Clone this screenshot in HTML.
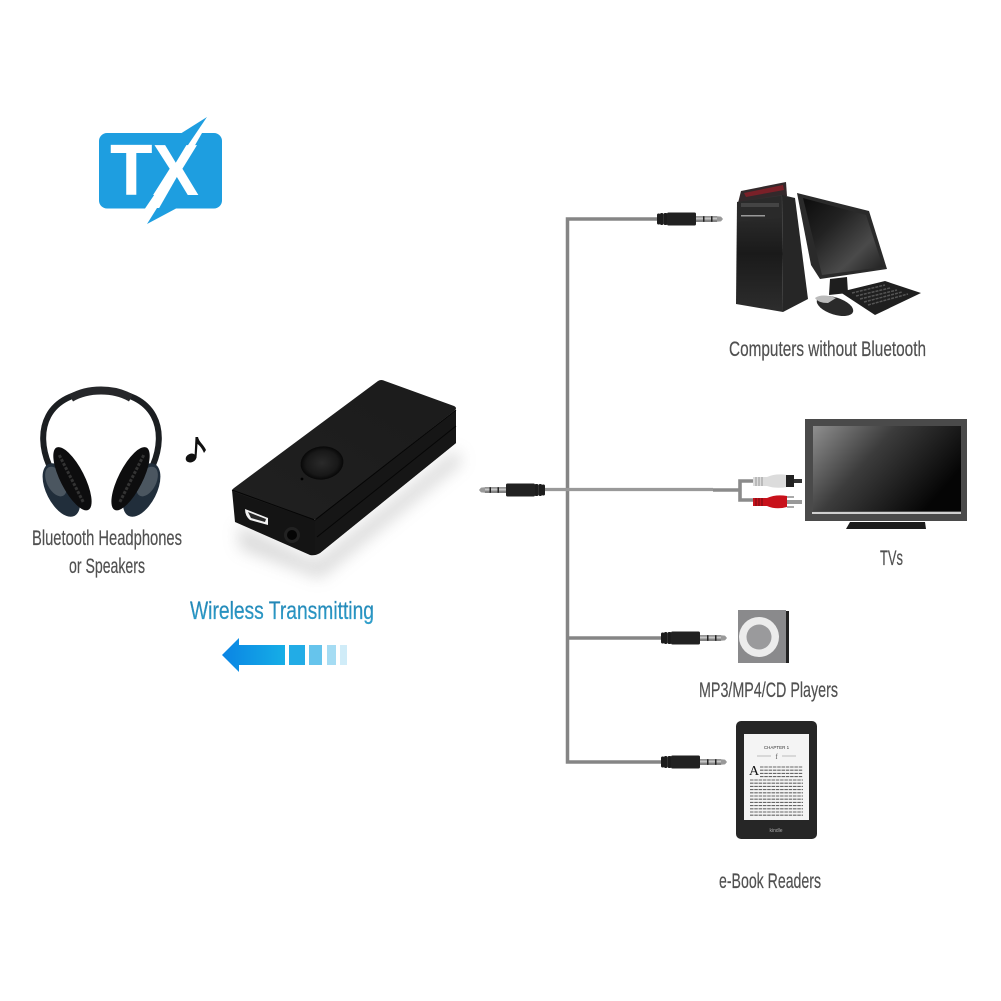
<!DOCTYPE html>
<html><head><meta charset="utf-8"><style>
html,body{margin:0;padding:0;background:#fff}
svg{display:block}
text{font-family:"Liberation Sans Narrow","Liberation Sans",sans-serif}
</style></head><body>
<svg width="1001" height="1001" viewBox="0 0 1001 1001" xmlns="http://www.w3.org/2000/svg">
<defs>
<linearGradient id="arrow" x1="0" x2="1" y1="0" y2="0"><stop offset="0" stop-color="#0a84e4"/><stop offset="1" stop-color="#16aee6"/></linearGradient>
<linearGradient id="wt" x1="0" x2="0" y1="0" y2="1"><stop offset="0" stop-color="#1f7fb0"/><stop offset="1" stop-color="#2fa4d0"/></linearGradient>
<linearGradient id="tv" x1="0" x2="1" y1="0" y2="0.5"><stop offset="0" stop-color="#8f8f8f"/><stop offset=".45" stop-color="#3c3c3c"/><stop offset="1" stop-color="#050505"/></linearGradient>
<linearGradient id="mon" x1="0" x2="1" y1="0" y2="1"><stop offset="0" stop-color="#0c0c0c"/><stop offset=".35" stop-color="#222"/><stop offset=".7" stop-color="#4a4a4a"/><stop offset="1" stop-color="#1c1c1c"/></linearGradient>
<linearGradient id="tower" x1="0" x2="0" y1="0" y2="1"><stop offset="0" stop-color="#333"/><stop offset=".5" stop-color="#1a1a1a"/><stop offset="1" stop-color="#2d2d2d"/></linearGradient>
<linearGradient id="devtop" x1="0" x2="1" y1="1" y2="0"><stop offset="0" stop-color="#202020"/><stop offset="1" stop-color="#1b1b1b"/></linearGradient>
<radialGradient id="btn"><stop offset="0" stop-color="#2a2a2a"/><stop offset=".75" stop-color="#181818"/><stop offset="1" stop-color="#070707"/></radialGradient>
<linearGradient id="metal" x1="0" x2="0" y1="0" y2="1"><stop offset="0" stop-color="#6a6a6a"/><stop offset=".4" stop-color="#cfcfcf"/><stop offset="1" stop-color="#555"/></linearGradient>
<filter id="blur" x="-30%" y="-30%" width="160%" height="160%"><feGaussianBlur stdDeviation="8"/></filter>
<g id="jack">
  <rect x="0" y="-5.500" width="3.400" height="11" rx="1.500" fill="#1c1c1c"/><rect x="3" y="-6" width="3.400" height="12" rx="1.500" fill="#1c1c1c"/><rect x="6.500" y="-6" width="4" height="12" rx="1.500" fill="#1c1c1c"/>
  <rect x="10" y="-6.500" width="29" height="13" rx="1.500" fill="#212121"/>
  <rect x="39" y="-2.800" width="21" height="5.600" fill="url(#metal)"/>
  <rect x="46" y="-2.800" width="1.500" height="5.600" fill="#222"/><rect x="54" y="-2.800" width="1.500" height="5.600" fill="#222"/>
  <path d="M60 -2.800 L64 -2.400 L66 0 L64 2.400 L60 2.800Z" fill="#999"/>
</g>
</defs>
<rect width="1001" height="1001" fill="#fff"/>

<!-- TX logo -->
<rect x="99" y="133" width="123" height="75.500" rx="8" fill="#1e9ee0"/>
<path d="M180 134 L207 117 L197 134Z" fill="#1e9ee0"/>
<text x="110" y="195" font-size="72" font-weight="700" fill="#fff" textLength="89" lengthAdjust="spacingAndGlyphs" style="font-family:'Liberation Sans',sans-serif">TX</text>
<path d="M207 117 L144 210 L158 210 L202 133Z" fill="#fff"/>
<path d="M147 224 L177 208 L157 208Z" fill="#1e9ee0"/>

<!-- Headphones -->
<path d="M49 465 C35 432 44 392 101 391 C158 392 167 432 153 465" fill="none" stroke="#1b1e21" stroke-width="6"/>
<path d="M71 398 C88 388 114 388 131 398" fill="none" stroke="#26272a" stroke-width="8"/>
<g transform="rotate(-27 68 481)">
<ellipse cx="58" cy="486" rx="15" ry="29" fill="#212e3b"/>
<ellipse cx="57" cy="476" rx="9" ry="16" fill="#5a646d" opacity=".75"/>
<ellipse cx="73" cy="481" rx="12" ry="35" fill="#0d0d0e"/>
<path d="M72 454 V508" stroke="#333" stroke-width="3" stroke-dasharray="3 1.500"/>
</g>
<g transform="rotate(27 135 481)">
<ellipse cx="145" cy="486" rx="15" ry="29" fill="#212e3b"/>
<ellipse cx="146" cy="476" rx="9" ry="16" fill="#5a646d" opacity=".75"/>
<ellipse cx="130" cy="481" rx="12" ry="35" fill="#0d0d0e"/>
<path d="M131 454 V508" stroke="#333" stroke-width="3" stroke-dasharray="3 1.500"/>
</g>

<!-- Music note -->
<ellipse cx="191" cy="458" rx="5.500" ry="4.300" transform="rotate(-20 191 458)" fill="#111"/>
<path d="M194.500 457 L195.500 437 L198 437 C199 442 204 445 206 450 L204 453 C202 448 199 445 197.500 444 L196.500 458Z" fill="#111"/>

<!-- Device -->
<path d="M238 525 L316 562 L456 450 L462 462 L320 578 L240 548Z" fill="#999" opacity=".38" filter="url(#blur)"/>
<path d="M232 490 L235 522 L310 555 Q315 556 320 553 L456 443 L456 410 L315 520Z" fill="#141414"/>
<path d="M315 520 L456 410 L456 443 L320 553 L315 555Z" fill="#161616"/>
<path d="M317 537 L456 426" stroke="#060606" stroke-width="1"/>
<path d="M234 488 L378 381 Q381 379 385 381 L454 406 Q458 408 454 411 L318 518 Q315 520 311 519 L234 492 Q231 490 234 488Z" fill="url(#devtop)"/>
<path d="M232 490 L315 520 L456 410" fill="none" stroke="#050505" stroke-width="1"/>
<ellipse cx="322" cy="463" rx="21.500" ry="16.500" transform="rotate(-8 322 463)" fill="url(#btn)"/>
<circle cx="302" cy="479" r="1.400" fill="#000"/>
<path d="M245 509 L268 518 L268 525 L250 520 Q245 516 245 509Z" fill="#f2f2f2"/>
<path d="M248 512 L266 519 L265 522 L251 518Z" fill="#2a2a2a"/>
<circle cx="292" cy="535" r="8" fill="#222"/><circle cx="292" cy="535" r="5" fill="#050505"/>

<!-- Wireless label and arrow -->
<text x="190" y="619" font-size="25" fill="url(#wt)" stroke="#2a8fbb" stroke-width=".25" textLength="184" lengthAdjust="spacingAndGlyphs">Wireless Transmitting</text>
<path d="M222 655 L239 638 L239 645 L285 645 L285 665 L239 665 L239 672Z" fill="url(#arrow)"/>
<rect x="289" y="645" width="16" height="20" fill="#22ace6"/>
<rect x="309" y="645" width="13" height="20" fill="#66c4ec"/>
<rect x="327" y="645" width="9" height="20" fill="#a5dcf3"/>
<rect x="340" y="645" width="7" height="20" fill="#d0ecf8"/>

<!-- Cables -->
<path d="M660 219 H567.500 V762 H664 M567.500 638 H664" fill="none" stroke="#858585" stroke-width="3.500"/>
<path d="M542 489.500 H713" stroke="#999" stroke-width="3.200"/>
<path d="M713 490 H740" stroke="#8b8b8b" stroke-width="3.600"/>
<path d="M756 481 H740 V500 H756" fill="none" stroke="#8b8b8b" stroke-width="3.600"/>

<!-- Jacks -->
<use href="#jack" transform="translate(657 219)"/>
<use href="#jack" transform="translate(661 638)"/>
<use href="#jack" transform="translate(661 762)"/>
<use href="#jack" transform="translate(545 490) scale(-1 1)"/>

<!-- RCA -->
<path d="M753 477 H767 Q776 473 787 475 L787 487 Q776 489 767 486 H753Z" fill="#dcdcdc"/>
<path d="M756 477 V486 M759 477 V486 M762 477 V486" stroke="#999" stroke-width="1"/>
<rect x="786" y="475" width="8" height="12" fill="#222"/><rect x="794" y="479" width="8" height="4" fill="#333"/>
<path d="M753 498 L767 498 Q776 494 787 496 L787 507 Q776 510 767 506 H753Z" fill="#c8111b"/>
<path d="M756 498 V506 M759 498 V506 M762 498 V506" stroke="#6e0a10" stroke-width="1"/>
<rect x="787" y="496" width="7" height="2" fill="#aaa"/><rect x="787" y="506" width="7" height="2" fill="#aaa"/>
<rect x="787" y="500" width="15" height="4" fill="#999"/>

<!-- Computer -->
<path d="M738 203 L787 196 L786 182 L741 191Z" fill="#33292b"/>
<path d="M744 193 L783 185 L784 190 L746 197Z" fill="#7a2028"/>
<path d="M737 202 L782 195 L783 312 L736 304Z" fill="url(#tower)"/>
<path d="M737 202 L781 196 L781 218 L737 222Z" fill="#2a2a2a"/>
<rect x="741" y="203" width="38" height="4" fill="#444"/>
<rect x="741" y="215" width="24" height="1.500" fill="#999"/>
<path d="M782 195 L795 198 L808 299 L783 312Z" fill="#262626"/>
<path d="M797 193 L869 211 L887 269 L820 279 L811 265Z" fill="#2a2a2a"/>
<path d="M803 198 L866 215 L883 267 L822 275Z" fill="url(#mon)"/>
<path d="M830 279 L847 277 L848 293 L829 295Z" fill="#1e1e1e"/>
<path d="M840 292 L885 281 L921 293 L875 315Z" fill="#1f1f1f"/>
<path d="M852 293 L885 285 M856 296 L890 288 M860 299 L897 290 M864 302 L902 292 M868 305 L908 294" stroke="#555" stroke-width="1.500" stroke-dasharray="3 1"/>
<ellipse cx="835" cy="306" rx="19" ry="8.500" transform="rotate(18 835 306)" fill="#2a2a2a"/>
<path d="M815 298 Q822 293 836 298 L828 303 Q818 303 815 298Z" fill="#bbb"/>

<!-- TV -->
<rect x="805" y="419" width="162" height="102" fill="#4a4a4a"/>
<rect x="813" y="426" width="148" height="85" fill="url(#tv)"/>
<rect x="812" y="512" width="149" height="2" fill="#cfcfcf"/>
<path d="M850 522 H925 L926 529 H846Z" fill="#1c1c1c"/>

<!-- MP3 -->
<rect x="786" y="611" width="3" height="52" fill="#222"/>
<rect x="738" y="610" width="48" height="53" fill="#8a8a8c"/>
<circle cx="759" cy="637" r="20" fill="#ececec"/>
<circle cx="759" cy="637" r="12.500" fill="#9a9a9c"/>

<!-- Kindle -->
<rect x="736" y="721" width="81" height="118" rx="5" fill="#262626"/>
<rect x="744" y="734" width="65" height="86" fill="#f4f4f4"/>
<text x="776.500" y="749" font-size="4.500" text-anchor="middle" fill="#333" style="font-family:'Liberation Sans',sans-serif">CHAPTER 1</text>
<path d="M757 756 H771 M782 756 H796" stroke="#aaa" stroke-width=".7"/>
<text x="776.500" y="759" font-size="7" text-anchor="middle" fill="#555" style="font-family:'Liberation Serif',serif">f</text>
<text x="749" y="775" font-size="14" fill="#111" style="font-family:'Liberation Serif',serif">A</text>
<path d="M760 767 H803 M760 770.200 H803 M760 773.400 H803 M760 776.600 H803 M750 780 H803 M750 783.200 H803 M750 786.400 H803 M750 789.600 H803 M750 792.800 H803 M750 796 H803 M750 799.200 H803 M750 802.400 H803 M750 805.600 H803 M750 808.800 H803 M750 812 H803 M750 815.200 H803" stroke="#666" stroke-width="1.100" stroke-dasharray="3.500 .8"/>
<text x="776" y="832" font-size="5" text-anchor="middle" fill="#aaa" style="font-family:'Liberation Sans',sans-serif">kindle</text>

<!-- Labels -->
<g fill="#505050" stroke="#505050" stroke-width=".2" font-size="21">
<text x="729" y="356" textLength="197" lengthAdjust="spacingAndGlyphs">Computers without Bluetooth</text>
<text x="880" y="565" textLength="23" lengthAdjust="spacingAndGlyphs">TVs</text>
<text x="699" y="697" textLength="139" lengthAdjust="spacingAndGlyphs">MP3/MP4/CD Players</text>
<text x="719" y="888" textLength="102" lengthAdjust="spacingAndGlyphs">e-Book Readers</text>
<text x="32" y="545" textLength="150" lengthAdjust="spacingAndGlyphs">Bluetooth Headphones</text>
<text x="69" y="573" textLength="76" lengthAdjust="spacingAndGlyphs">or Speakers</text>
</g>
</svg>
</body></html>
